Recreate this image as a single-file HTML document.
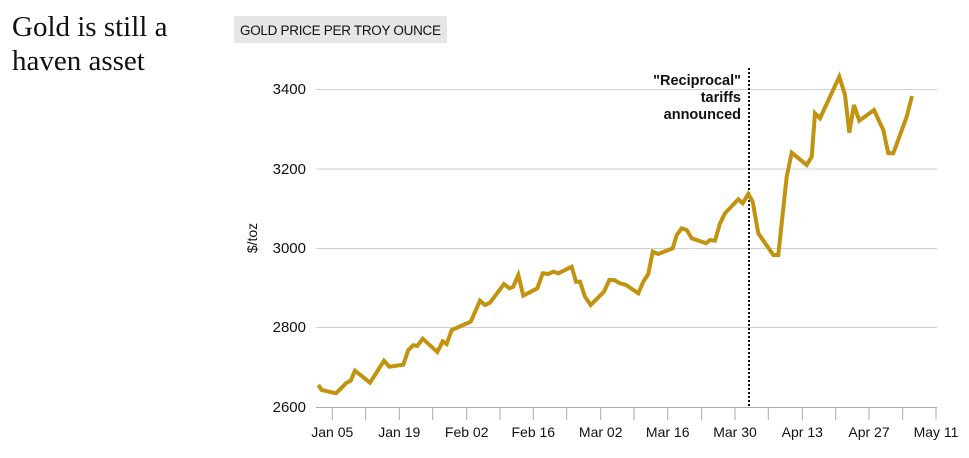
<!DOCTYPE html>
<html><head><meta charset="utf-8"><style>
body{margin:0;background:#fff;width:969px;height:458px;overflow:hidden;font-family:"Liberation Sans",sans-serif}
</style></head><body>
<svg width="969" height="458" xmlns="http://www.w3.org/2000/svg" style="position:absolute;left:0;top:0">
<text x="12" y="36" font-family="Liberation Serif, serif" font-size="29" fill="#111">Gold is still a</text>
<text x="12" y="70" font-family="Liberation Serif, serif" font-size="29" fill="#111">haven asset</text>
<rect x="234" y="16" width="213" height="27" fill="#e6e6e6"/>
<text x="240" y="35" font-size="13.5" fill="#111" textLength="201">GOLD PRICE PER TROY OUNCE</text>
<g stroke="#cfcfcf" stroke-width="1">
<line x1="316" x2="937" y1="89.5" y2="89.5"/>
<line x1="316" x2="937" y1="169" y2="169"/>
<line x1="316" x2="937" y1="248.5" y2="248.5"/>
<line x1="316" x2="937" y1="327.5" y2="327.5"/>
</g>
<g font-size="15" fill="#111" text-anchor="end">
<text x="306" y="94">3400</text>
<text x="306" y="174">3200</text>
<text x="306" y="253">3000</text>
<text x="306" y="332">2800</text>
<text x="306" y="412">2600</text>
</g>
<text transform="translate(257,238) rotate(-90)" font-size="14" fill="#111" text-anchor="middle">$/toz</text>
<line x1="316" x2="937" y1="407.5" y2="407.5" stroke="#aaa" stroke-width="1"/>
<g stroke="#aaa" stroke-width="1">
<line x1="332.3" x2="332.3" y1="407" y2="420"/><line x1="365.7" x2="365.7" y1="407" y2="420"/>
<line x1="399.3" x2="399.3" y1="407" y2="420"/><line x1="432.7" x2="432.7" y1="407" y2="420"/>
<line x1="466.7" x2="466.7" y1="407" y2="420"/><line x1="500" x2="500" y1="407" y2="420"/>
<line x1="533.3" x2="533.3" y1="407" y2="420"/><line x1="566.7" x2="566.7" y1="407" y2="420"/>
<line x1="600.7" x2="600.7" y1="407" y2="420"/><line x1="634" x2="634" y1="407" y2="420"/>
<line x1="667.7" x2="667.7" y1="407" y2="420"/><line x1="701.7" x2="701.7" y1="407" y2="420"/>
<line x1="735" x2="735" y1="407" y2="420"/><line x1="768.3" x2="768.3" y1="407" y2="420"/>
<line x1="802.3" x2="802.3" y1="407" y2="420"/><line x1="835.7" x2="835.7" y1="407" y2="420"/>
<line x1="869" x2="869" y1="407" y2="420"/><line x1="902.7" x2="902.7" y1="407" y2="420"/>
<line x1="936" x2="936" y1="407" y2="420"/>
</g>
<g font-size="14" fill="#111" text-anchor="middle">
<text x="332.3" y="437">Jan 05</text><text x="399.3" y="437">Jan 19</text>
<text x="466.7" y="437">Feb 02</text><text x="533.3" y="437">Feb 16</text>
<text x="600.7" y="437">Mar 02</text><text x="667.7" y="437">Mar 16</text>
<text x="735" y="437">Mar 30</text><text x="802.3" y="437">Apr 13</text>
<text x="869" y="437">Apr 27</text><text x="936" y="437">May 11</text>
</g>
<line x1="749" x2="749" y1="68" y2="407" stroke="#111" stroke-width="2" stroke-dasharray="2,2"/>
<g font-size="14.5" font-weight="bold" fill="#111" text-anchor="end">
<text x="741" y="85">"Reciprocal"</text>
<text x="741" y="102">tariffs</text>
<text x="741" y="119">announced</text>
</g>
<polyline fill="none" stroke="#c1930f" stroke-width="4" stroke-linejoin="miter" points="318.3,385 321.7,390 336,393.3 346.7,382.7 350.7,380.7 355,370.7 370,382.7 384,360.7 389.3,366.7 403.3,364.7 408.3,350 413.3,345.3 417.3,346 422.7,338.7 437.3,352 442.7,341.3 446.7,344 451.7,330 470.7,321.7 480,300.7 485,305 490,302.7 504,284 509.3,288.3 513.3,286.7 518.3,275 523.3,295.7 537.3,288.3 542.7,273.3 548.3,274 553.3,271.7 558.3,273.3 571.7,266.7 576,281.7 580,281.7 585,296.7 590.7,305 604,291.7 609.3,280 614,280 620,283.3 626,285 638.3,293.3 643.3,281.7 648.3,274 652.7,251.7 658.3,254 672.7,248.3 676.7,235 681.7,228.3 686.7,230 691.7,238.3 706,243.3 710,240 715,240.7 720,223.3 725,213.3 738.3,199.3 742.7,203.3 748.3,194 752.7,201.7 758.3,233.3 773.3,255 778.3,255 786.7,176.7 791.7,152.7 806.7,165 811.7,156.7 815,113.3 820,118.3 839.3,76.7 845,95 849.3,132.7 854,105 859.3,120.7 874,110 883.3,130 888.3,153.3 893.3,153.3 906.7,116.7 912,96"/>
</svg>
</body></html>
